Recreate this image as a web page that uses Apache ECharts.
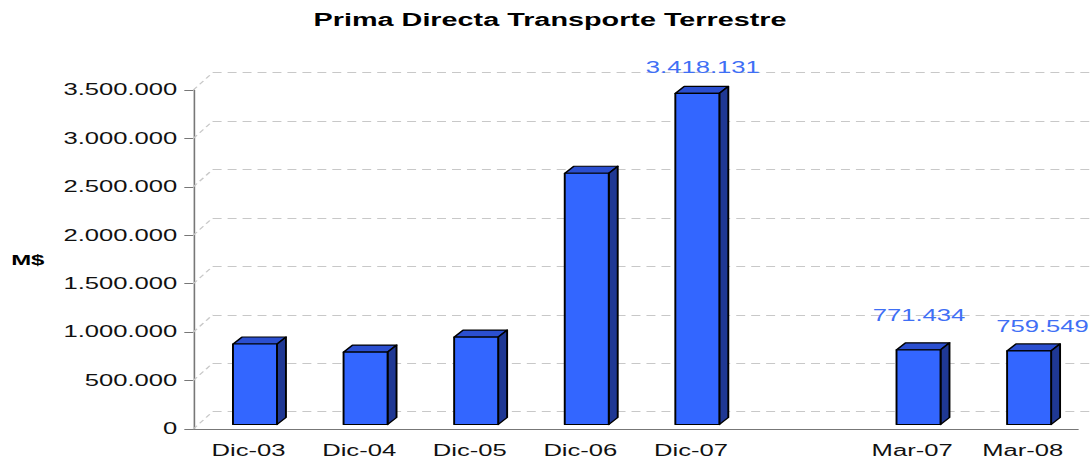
<!DOCTYPE html>
<html>
<head>
<meta charset="utf-8">
<script src="https://cdn.jsdelivr.net/npm/echarts@6/dist/echarts.min.js"></script>
<style>
html, body { margin: 0; padding: 0; overflow: hidden; background: #fff; }
/* the source picture is stretched sideways, so the chart is drawn narrow and widened */
#main { width: 682px; height: 460px; transform: scaleX(1.6); transform-origin: 0 0; }
</style>
</head>
<body>
<div id="main"></div>
<script>
const categories = ['Dic-03', 'Dic-04', 'Dic-05', 'Dic-06', 'Dic-07', '', 'Mar-07', 'Mar-08'];
const primaValues = [831000, 748000, 903000, 2594000, 3418131, null, 771434, 759549];
const yTicks = [0, 500000, 1000000, 1500000, 2000000, 2500000, 3000000, 3500000];

// bars that carry a value label, with the label shift (chart px)
const labelShift = { 4: [3.4, -26], 6: [0.3, -34], 7: [8.4, -24] };

const fmt = v => String(v).replace(/\B(?=(\d{3})+(?!\d))/g, '.');

const myChart = echarts.init(document.getElementById('main'), null, { renderer: 'svg' });

// 3d look
const wallDx = 12.1, wallDy = -17.3;
const barDx = 4, barDy = -4.5;
const sideDx = 5.6, sideDy = -7;

function renderBar(params, api) {
    const idx = api.value(0);
    const v = api.value(1);
    const top = api.coord([idx, v]);
    const base = api.coord([idx, 0]);
    const bw = api.size([1, 0])[0] * 0.398;
    const L = top[0] + barDx - bw / 2, R = top[0] + barDx + bw / 2;
    const T = top[1] + barDy, B = base[1] + barDy;
    const stroke = { stroke: '#000', lineWidth: 1.2, lineJoin: 'round' };
    const children = [
        { type: 'polygon', shape: { points: [[L, T], [R, T], [R + sideDx, T + sideDy], [L + sideDx, T + sideDy]] },
          style: Object.assign({ fill: '#2b4fd0' }, stroke) },
        { type: 'polygon', shape: { points: [[R, T], [R + sideDx, T + sideDy], [R + sideDx, B + sideDy], [R, B]] },
          style: Object.assign({ fill: '#1f3894' }, stroke) },
        { type: 'rect', shape: { x: L, y: T, width: R - L, height: B - T },
          style: Object.assign({ fill: '#3366ff' }, stroke) }
    ];
    const sh = labelShift[idx];
    if (sh) {
        children.push({
            type: 'text',
            style: {
                text: fmt(v), x: (L + R) / 2 + sh[0], y: T + sh[1],
                fill: '#3f6ff5', font: '16px "Liberation Sans", Arial, sans-serif',
                align: 'center', verticalAlign: 'middle'
            }
        });
    }
    return { type: 'group', children: children };
}

function renderWallEdge(params, api) {
    const p = api.coord([0, api.value(1)]);
    const x0 = p[0] - api.size([1, 0])[0] / 2;
    return {
        type: 'line',
        shape: { x1: x0, y1: p[1], x2: x0 + wallDx, y2: p[1] + wallDy },
        style: { stroke: '#c8c8c8', lineWidth: 1, lineDash: [4, 3] }
    };
}

const option = {
    backgroundColor: '#fff',
    animation: false,
    title: {
        text: 'Prima Directa Transporte Terrestre',
        left: 196, top: 11, padding: 0,
        textStyle: { fontFamily: '"Liberation Sans", Arial, sans-serif', fontSize: 18, fontWeight: 'bold', color: '#000' }
    },
    grid: [
        { left: 120.8, right: 8.25, top: 90, bottom: 31, outerBoundsMode: 'none' },
        { left: 120.8 + wallDx, right: 0, top: 90 + wallDy, bottom: 31 - wallDy, outerBoundsMode: 'none' }
    ],
    xAxis: [
        {
            type: 'category', gridIndex: 0, data: categories,
            axisLine: { lineStyle: { color: '#777', width: 1 } },
            axisTick: { length: 6, lineStyle: { color: '#777' } },
            axisLabel: { interval: 0, margin: 14, color: '#111', fontSize: 16, fontFamily: '"Liberation Sans", Arial, sans-serif' }
        },
        { type: 'category', gridIndex: 1, data: categories, show: false }
    ],
    yAxis: [
        {
            type: 'value', gridIndex: 0, min: 0, max: 3500000, interval: 500000,
            name: 'M$', nameLocation: 'middle', nameRotate: 0, nameGap: 93,
            nameTextStyle: { fontFamily: '"Liberation Sans", Arial, sans-serif', fontSize: 15, fontWeight: 'bold', color: '#000' },
            axisLine: { show: true, lineStyle: { color: '#777', width: 1 } },
            axisTick: { show: true, length: 5.6, lineStyle: { color: '#777' } },
            splitLine: { show: false },
            axisLabel: { margin: 10, color: '#111', fontSize: 16, fontFamily: '"Liberation Sans", Arial, sans-serif', formatter: fmt }
        },
        {
            type: 'value', gridIndex: 1, min: 0, max: 3500000, interval: 500000,
            axisLine: { show: false }, axisTick: { show: false }, axisLabel: { show: false },
            splitLine: { show: true, lineStyle: { color: '#c8c8c8', width: 1, type: [5.6, 3.75] } }
        }
    ],
    series: [
        {
            type: 'custom', xAxisIndex: 0, yAxisIndex: 0, z: 1,
            renderItem: renderWallEdge,
            data: yTicks.map(v => [0, v])
        },
        {
            type: 'custom', xAxisIndex: 0, yAxisIndex: 0, z: 3,
            renderItem: renderBar,
            data: primaValues.map((v, i) => [i, v]).filter(d => d[1] !== null)
        }
    ]
};

myChart.setOption(option);
</script>
</body>
</html>
